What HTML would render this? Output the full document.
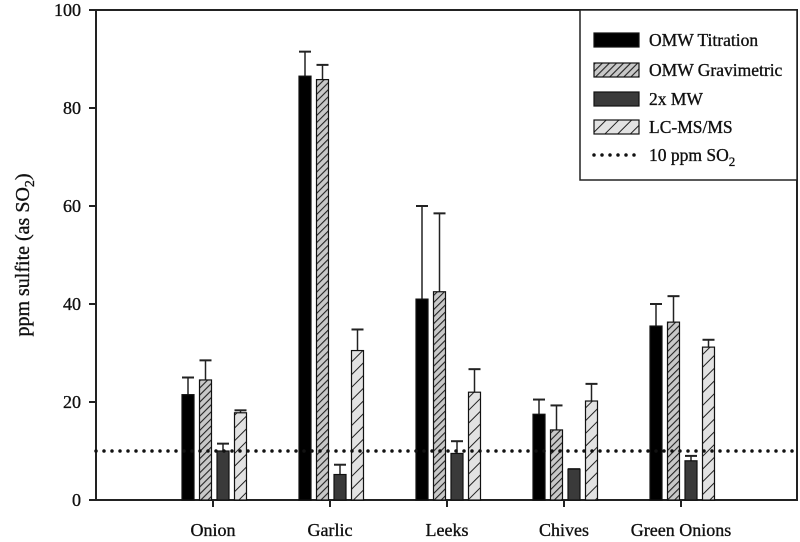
<!DOCTYPE html>
<html><head><meta charset="utf-8"><style>
body{margin:0;background:#fff;width:800px;height:537px;overflow:hidden}
svg text{font-family:"Liberation Serif",serif;fill:#111;stroke:#111;stroke-width:0.35}
</style></head><body>
<svg id="chart" width="800" height="537" viewBox="0 0 800 537" xmlns="http://www.w3.org/2000/svg">
<defs>
<pattern id="hatchDense" patternUnits="userSpaceOnUse" width="5" height="5" patternTransform="rotate(45)">
<rect width="5" height="5" fill="#c8c8c8"/><line x1="0" y1="0" x2="0" y2="5" stroke="#222" stroke-width="2.2"/></pattern>
<pattern id="hatchWide" patternUnits="userSpaceOnUse" width="9" height="9" patternTransform="rotate(45)">
<rect width="9" height="9" fill="#e2e2e2"/><line x1="0" y1="0" x2="0" y2="9" stroke="#222" stroke-width="2"/></pattern>
</defs>
<g id="plot"></g>
</svg>
<script>
const categories=["Onion","Garlic","Leeks","Chives","Green Onions"];
const seriesNames=["OMW Titration","OMW Gravimetric","2x MW","LC-MS/MS"];
const titration=[21.5,86.5,41,17.5,35.5];
const titrationErr=[3.5,5,19,3,4.5];
const gravimetric=[24.5,85.8,42.5,14.3,36.3];
const gravimetricErr=[4,3,16,5,5.3];
const mw2x=[10,5.2,9.5,6.3,8];
const mw2xErr=[1.5,2,2.5,0,1];
const lcms=[17.8,30.5,22,20.2,31.2];
const lcmsErr=[0.5,4.3,4.7,3.5,1.5];
const yTicks=[0,20,40,60,80,100];
const thresholdValue=10;

const NS="http://www.w3.org/2000/svg";
const g=document.getElementById('plot');
const X0=96,X1=797,Y0=500,Y1=10;
function y(v){return Y0-(v/100)*(Y0-Y1);}
function cx(i){return 213+i*117;}
function el(t,a,p){const e=document.createElementNS(NS,t);for(const k in a)e.setAttribute(k,a[k]);(p||g).appendChild(e);return e;}

const frame=el('rect',{x:X0,y:Y1,width:X1-X0,height:Y0-Y1,fill:'none',stroke:'#222','stroke-width':2});



yTicks.forEach(t=>{
  const tk=el('line',{x1:X0-7,x2:X0,y1:y(t),y2:y(t),stroke:'#222','stroke-width':2});
  
  
  const tx=el('text',{x:81,y:y(t)+6,'text-anchor':'end','font-size':18});
  tx.textContent=t;
  
  
});
const yt=el('text',{x:0,y:0,'text-anchor':'middle','font-size':20,transform:'translate(29,255) rotate(-90)'});
yt.innerHTML='ppm sulfite (as SO<tspan dy="5" font-size="14">2</tspan><tspan dy="-5">)</tspan>';



const fills=['#000','url(#hatchDense)','#3a3a3a','url(#hatchWide)'];
const vals=[titration,gravimetric,mw2x,lcms];
const errs=[titrationErr,gravimetricErr,mw2xErr,lcmsErr];
const bw=12,step=17.5;
categories.forEach((c,i)=>{
  const tk=el('line',{x1:cx(i),x2:cx(i),y1:Y0,y2:Y0+7,stroke:'#222','stroke-width':2});
  
  
  const lb=el('text',{x:cx(i),y:Y0+36,'text-anchor':'middle','font-size':18});
  lb.textContent=c;
  
  
  for(let s=0;s<4;s++){
    const left=cx(i)-31+s*step;
    const v=vals[s][i],e=errs[s][i];
    const mid=left+bw/2;
    const el1=el('line',{x1:mid,x2:mid,y1:y(v),y2:y(v+e),stroke:'#222','stroke-width':1.5});
    
    
    const cap=el('line',{x1:mid-6,x2:mid+6,y1:y(v+e),y2:y(v+e),stroke:'#222','stroke-width':2});
    
    
    const r=el('rect',{x:left,y:y(v),width:bw,height:Y0-y(v),fill:fills[s],stroke:'#111','stroke-width':1.2});
    
    
  }
});
const th=el('line',{x1:X0,x2:X1,y1:y(thresholdValue),y2:y(thresholdValue),stroke:'#111','stroke-width':3.5,'stroke-dasharray':'0 8','stroke-linecap':'round'});



const lg=el('g',{});


el('rect',{x:580,y:10,width:217,height:170,fill:'#fff',stroke:'#222','stroke-width':1.5},lg);
const ly=[40,70,99,127];
seriesNames.forEach((n,s)=>{
  const sw=el('rect',{x:594,y:ly[s]-7,width:45,height:14,fill:fills[s],stroke:'#111','stroke-width':1.2},lg);
  
  
  const t=el('text',{x:649,y:ly[s]+6,'font-size':17.5},lg);
  t.textContent=n;
  
  
});
const ld=el('line',{x1:594,x2:640,y1:155,y2:155,stroke:'#111','stroke-width':3.5,'stroke-dasharray':'0 8','stroke-linecap':'round'},lg);


const lt=el('text',{x:649,y:161,'font-size':17.5},lg);
lt.innerHTML='10 ppm SO<tspan dy="5" font-size="13">2</tspan>';


</script>
</body></html>
